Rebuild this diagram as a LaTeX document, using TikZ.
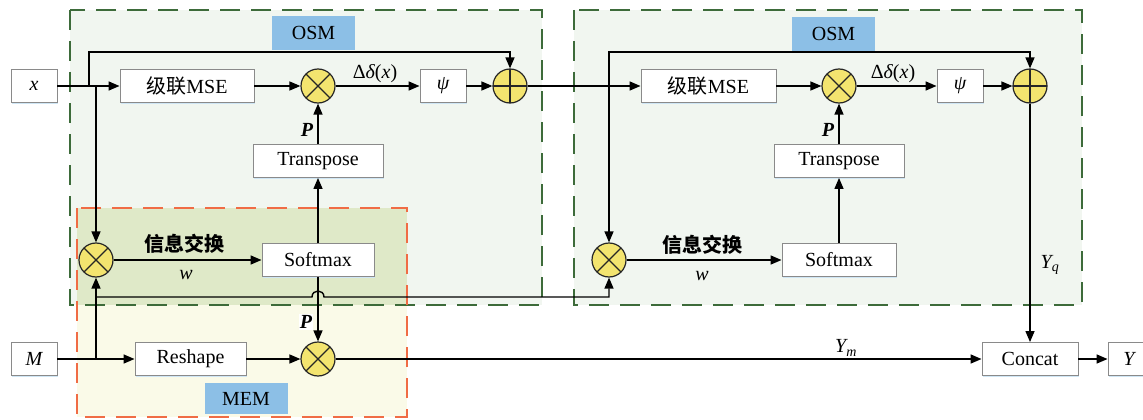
\documentclass[tikz,border=0pt]{standalone}
\usepackage{fontspec}
\setmainfont{Liberation Serif}
\newfontfamily\cjk{Noto Sans CJK SC}
\usetikzlibrary{arrows.meta,shadows}
\definecolor{osmgreen}{HTML}{3D6B3A}
\definecolor{osmfill}{HTML}{F1F6F0}
\definecolor{memfill}{HTML}{FAFAE8}
\definecolor{overlapfill}{HTML}{DFE9C8}
\definecolor{memorange}{HTML}{F06C45}
\definecolor{tagblue}{HTML}{8CBFE6}
\definecolor{opyellow}{HTML}{F3E46F}
\definecolor{boxgray}{HTML}{8A8A8A}
\definecolor{shadowblue}{HTML}{CFE6F5}
\begin{document}
\begin{tikzpicture}[x=1pt,y=-1pt,font=\fontsize{20}{24}\selectfont,
  box/.style={draw=boxgray,line width=0.9pt,fill=white,minimum height=33pt,inner sep=0pt,
    drop shadow={shadow xshift=0.6pt,shadow yshift=-1.8pt,fill=shadowblue,opacity=1}},
  opcirc/.style={circle,draw=black!85,line width=1.2pt,fill=opyellow,minimum size=34pt,inner sep=0pt},
  otimes/.style={opcirc,path picture={\draw[line width=1.2pt]
      (path picture bounding box.north west)--(path picture bounding box.south east)
      (path picture bounding box.north east)--(path picture bounding box.south west);}},
  oplus/.style={opcirc,path picture={\draw[line width=1.2pt]
      (path picture bounding box.north)--(path picture bounding box.south)
      (path picture bounding box.east)--(path picture bounding box.west);}},
  conn/.style={line width=1.4pt,-{Triangle[length=11pt,width=9pt]}},
  wire/.style={line width=1.4pt},
  osmframe/.style={draw=osmgreen,line width=1.8pt,dash pattern=on 20pt off 11pt},
  memframe/.style={draw=memorange,line width=1.8pt,dash pattern=on 20pt off 11pt},
  tag/.style={fill=tagblue,minimum width=83pt,minimum height=34pt,inner sep=0pt},
  lbl/.style={inner sep=1pt}
]
\useasboundingbox (0,0) rectangle (1143,420);
\clip (0,0) rectangle (1143,420);
% backgrounds
\fill[osmfill] (70,10) rectangle (542,305);
\fill[osmfill] (574,10) rectangle (1082,305);
\fill[memfill] (77,208) rectangle (407,417);
\fill[overlapfill] (77,208) rectangle (407,305);
\draw[osmframe] (70,10) rectangle (542,305);
\draw[osmframe] (574,10) rectangle (1082,305);
\draw[memframe] (77,208) rectangle (407,417);
% tags
\node[tag] (tagosm1) at (313.5,33) {OSM};
\node[tag] (tagosm2) at (833.5,34) {OSM};
\node[tag,minimum height=31pt] (tagmem) at (246,398.5) {MEM};
% left OSM
\node[box,minimum width=46pt] (xin) at (34,86) {\itshape x};
\node[box,minimum width=134pt] (mse1) at (187,86) {{\cjk 级联}MSE};
\node[otimes] (ot1) at (318,86) {};
\node[box,minimum width=46pt] (psi1) at (443,86) {\itshape ψ};
\node[oplus] (op1) at (510,86) {};
\node[box,minimum width=130pt] (tr1) at (318,161) {Transpose};
\node[box,minimum width=112pt] (sm1) at (318,260) {Softmax};
\node[otimes] (ot2) at (96,260) {};
% MEM
\node[box,minimum width=46pt] (Min) at (34,359) {\itshape M};
\node[box,minimum width=111pt] (rs) at (190.5,359) {Reshape};
\node[otimes] (ot3) at (318,359) {};
% right OSM
\node[box,minimum width=135pt] (mse2) at (708.5,86) {{\cjk 级联}MSE};
\node[otimes] (ot4) at (839,86) {};
\node[box,minimum width=46pt] (psi2) at (960,86) {\itshape ψ};
\node[oplus] (op2) at (1030,86) {};
\node[box,minimum width=130pt] (tr2) at (839,161) {Transpose};
\node[box,minimum width=114pt] (sm2) at (839,260) {Softmax};
\node[otimes] (ot5) at (609,260) {};
% output
\node[box,minimum width=96pt] (concat) at (1030,359) {Concat};
\node[box,minimum width=42pt] (Yout) at (1129,359) {\itshape Y};
% labels
\node[lbl] (dd1) at (375,74) {Δ{\itshape δ}({\itshape x})};
\node[lbl] (dd2) at (893,74) {Δ{\itshape δ}({\itshape x})};
\node[lbl] (p1) at (307,130) {\textbf{\textit{P}}};
\node[lbl] (p2) at (828,130) {\textbf{\textit{P}}};
\node[lbl,fill=white] (p3) at (306,322) {\textbf{\textit{P}}};
\node[lbl] (ie1) at (184,244) {\cjk\bfseries 信息交换};
\node[lbl] (w1) at (186,275) {\itshape w};
\node[lbl] (ie2) at (702,245) {\cjk\bfseries 信息交换};
\node[lbl] (w2) at (702,276) {\itshape w};
\node[lbl] (ym) at (846,348) {{\itshape Y}\textsubscript{\itshape m}};
\node[lbl] (yq) at (1050,265) {{\itshape Y}\textsubscript{\itshape q}};
% branch coordinates
\coordinate (b1) at (89,86);
\coordinate (b2) at (96,86);
\coordinate (b3) at (609,86);
\coordinate (b4) at (96,359);
\coordinate (b5) at (96,297);
% connectors left OSM
\draw[conn] (xin.east) -- (mse1.west);
\draw[conn] (b1) -- (89,52) -| (op1.north);
\draw[conn] (b2) -- (ot2.north);
\draw[conn] (mse1.east) -- (ot1.west);
\draw[conn] (ot1.east) -- (psi1.west);
\draw[conn] (psi1.east) -- (op1.west);
\draw[conn] (tr1.north) -- (ot1.south);
\draw[conn] (sm1.north) -- (tr1.south);
\draw[conn] (sm1.south) -- (ot3.north);
\draw[conn] (ot2.east) -- (sm1.west);
% MEM
\draw[conn] (Min.east) -- (rs.west);
\draw[conn] (b4) -- (ot2.south);
\draw[conn] (rs.east) -- (ot3.west);
\draw[conn] (b5) -- (312,297) .. controls (312,289) and (324,289) .. (324,297) -- (609,297) -- (ot5.south);
% right OSM
\draw[conn] (op1.east) -- (mse2.west);
\draw[conn] (b3) -- (609,52) -| (op2.north);
\draw[conn] (b3) -- (ot5.north);
\draw[conn] (mse2.east) -- (ot4.west);
\draw[conn] (ot4.east) -- (psi2.west);
\draw[conn] (psi2.east) -- (op2.west);
\draw[conn] (tr2.north) -- (ot4.south);
\draw[conn] (sm2.north) -- (tr2.south);
\draw[conn] (ot5.east) -- (sm2.west);
% output
\draw[conn] (ot3.east) -- (concat.west);
\draw[conn] (op2.south) -- (concat.north);
\draw[conn] (concat.east) -- (Yout.west);
\end{tikzpicture}
\end{document}
